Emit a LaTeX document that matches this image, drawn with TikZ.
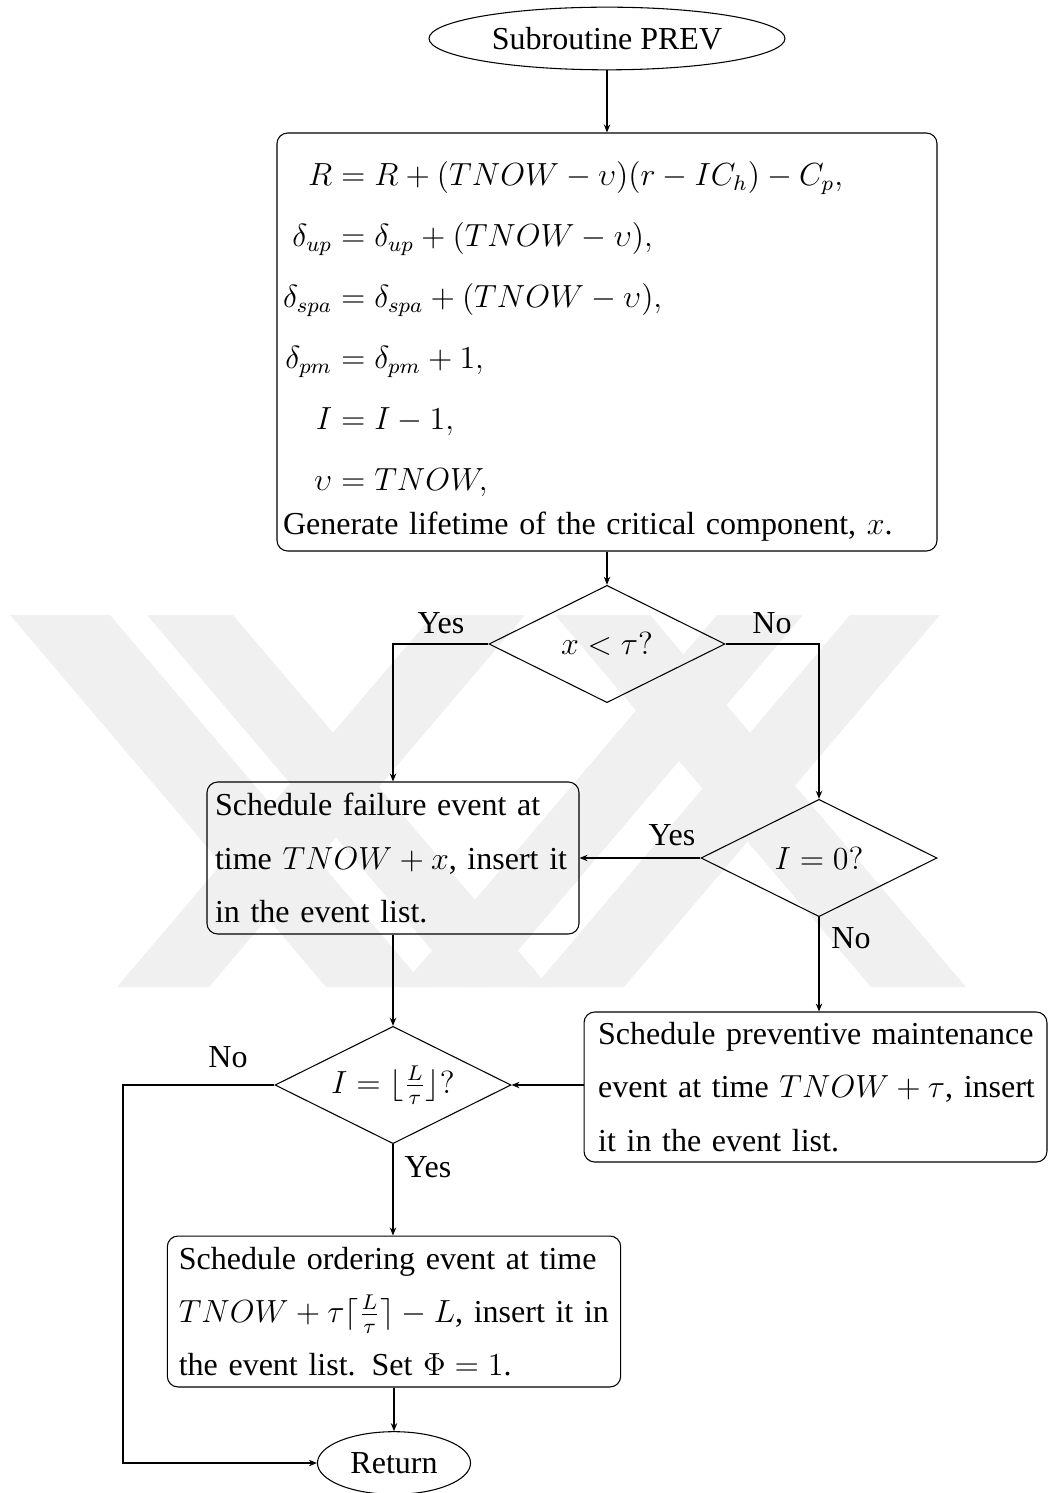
\documentclass[tikz,border=0pt]{standalone}
\usepackage[no-math]{fontspec}
\setmainfont{Liberation Serif}
\usetikzlibrary{shapes.geometric,arrows.meta}

\tikzset{
  base/.style={font=\fontsize{12}{20}\selectfont},
  terminal/.style={base, draw, ellipse, inner sep=0pt, minimum height=23.5pt},
  procbox/.style={base, draw, rounded corners=4pt, align=left},
  decision/.style={base, draw, diamond, aspect=2, inner sep=0pt, minimum width=88.5pt, minimum height=44pt},
  branch/.style={base, anchor=base, inner sep=0pt},
  flow/.style={-{Stealth[length=3pt,width=2.4pt]}},
  mark band/.style={fill=black!6, draw=none}
}

\begin{document}
\begin{tikzpicture}[x=0.375pt, y=-0.375pt]
  \useasboundingbox (0,0) rectangle (1049,1493);

  % faint striped emblem behind the chart
  \foreach \l/\r/\d in {10/110/316, 147/233/316, 433/525/-316,
                        555/650/316, 717/803/-316, 850/940/-316}
    \fill[mark band] (\l,615) -- (\r,615) -- ({\r+\d},987) -- ({\l+\d},987) -- cycle;

  % start
  \node[terminal, minimum width=133.5pt] (start) at (607,38.5) {Subroutine PREV};

  % update of the counters
  \node[procbox, minimum height=156.75pt, text width=243pt, inner xsep=2.25pt, inner ysep=0pt] (update) at (607,342)
    {\def\arraystretch{1.145}%
     $\begin{array}{@{}r@{}l@{}}
        R & {}=R+(TNOW-\upsilon)(r-IC_h)-C_p,\\
        \delta_{up} & {}=\delta_{up}+(TNOW-\upsilon),\\
        \delta_{spa} & {}=\delta_{spa}+(TNOW-\upsilon),\\
        \delta_{pm} & {}=\delta_{pm}+1,\\
        I & {}=I-1,\\
        \upsilon & {}=TNOW,
      \end{array}$\\
     Generate lifetime of the critical component, $x$.};

  % first test
  \node[decision] (d1) at (607,644) {$x<\tau?$};

  % failure event
  \node[procbox, minimum height=57pt, text width=133.5pt, inner xsep=3pt] (fail) at (393,858)
    {\mbox{Schedule failure event at}\\ \mbox{time $TNOW+x$, insert it}\\ \mbox{in the event list.}};

  % second test
  \node[decision] (d2) at (819,858) {$I=0?$};

  % preventive maintenance event
  \node[procbox, minimum height=56.25pt, text width=163pt, inner xsep=5.3pt] (pm) at (815.5,1087)
    {\mbox{Schedule preventive maintenance}\\ \mbox{event at time $TNOW+\tau$, insert}\\ \mbox{it in the event list.}};

  % third test
  \node[decision] (d3) at (393,1085) {$I=\lfloor\frac{L}{\tau}\rfloor?$};

  % ordering event
  \node[procbox, minimum height=56.6pt, text width=161.4pt, inner xsep=4.3pt] (ord) at (394,1311.5)
    {\mbox{Schedule ordering event at time}\\ \mbox{$TNOW+\tau\lceil\frac{L}{\tau}\rceil-L$, insert it in}\\ \mbox{the event list. Set $\Phi=1$.}};

  % end
  \node[terminal, minimum width=57.4pt] (ret) at (394,1463) {Return};

  % branch labels
  \node[branch] (y1) at (441,633) {Yes};
  \node[branch] (n1) at (772,633) {No};
  \node[branch] (y2) at (672,845) {Yes};
  \node[branch] (n2) at (851,948) {No};
  \node[branch] (n3) at (228,1067) {No};
  \node[branch] (y3) at (428,1177) {Yes};

  \coordinate (bend) at (123,1085);

  % connectors
  \draw[flow] (start) -- (update);
  \draw[flow] (update) -- (d1);
  \draw[flow] (d1.west) -| (fail.north);
  \draw[flow] (d1.east) -| (d2.north);
  \draw[flow] (d2.west) -- (fail.east |- d2.west);
  \draw[flow] (d2.south) -- (d2.south |- pm.north);
  \draw[flow] (pm.west |- d3.east) -- (d3.east);
  \draw[flow] (fail.south) -- (fail.south |- d3.north);
  \draw[flow] (d3.south) -- (d3.south |- ord.north);
  \draw[flow] (ord.south) -- (ret.north);
  \draw[flow] (d3.west) -- (bend) |- (ret.west);
\end{tikzpicture}
\end{document}
